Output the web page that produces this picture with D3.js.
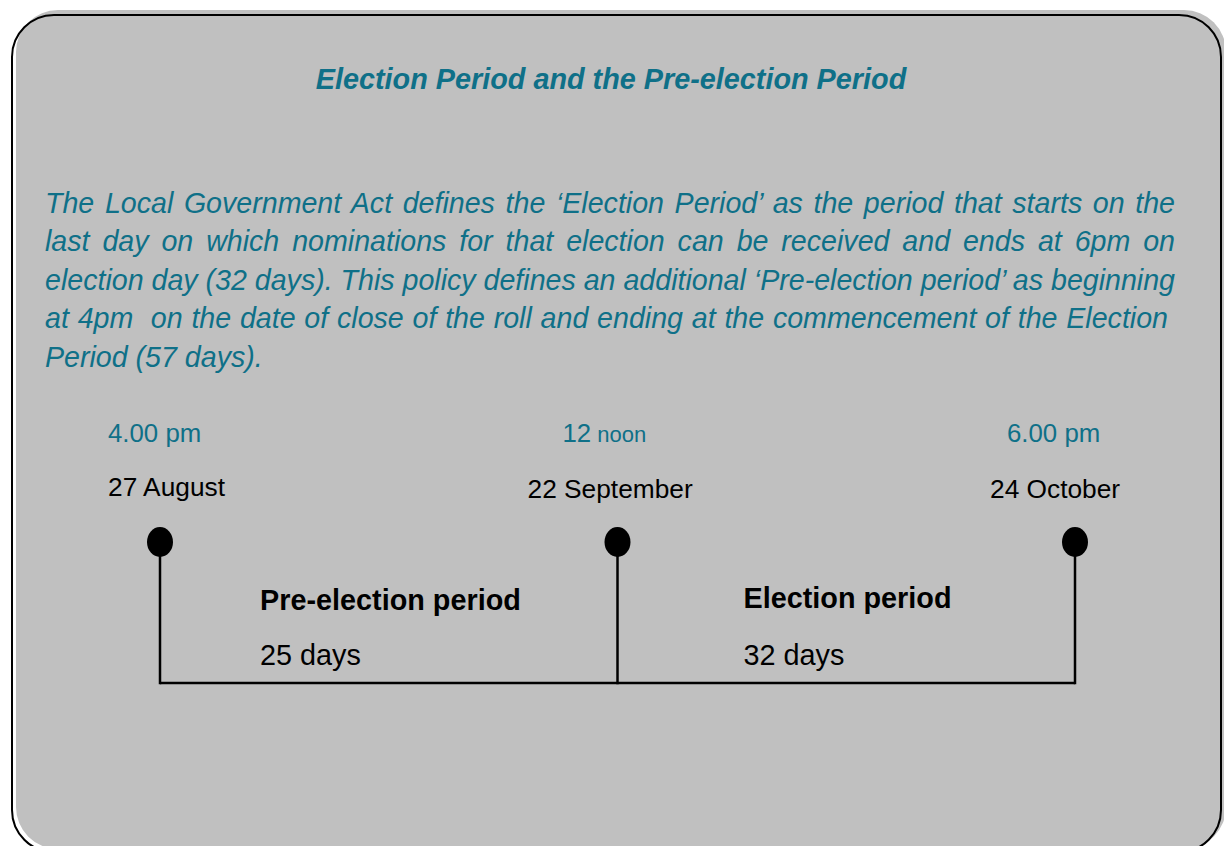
<!DOCTYPE html>
<html>
<head>
<meta charset="utf-8">
<script src="https://cdn.jsdelivr.net/npm/d3@7"></script>
<style>
  html, body { margin: 0; padding: 0; background: #ffffff; }
  svg { display: block; font-family: "Liberation Sans", Arial, sans-serif; }
</style>
</head>
<body>
<svg id="chart" width="1224" height="846"></svg>
<script>
// ---- data ----
const title = "Election Period and the Pre-election Period";
const paragraphLines = [
  "The Local Government Act defines the \u2018Election Period\u2019 as the period that starts on the",
  "last day on which nominations for that election can be received and ends at 6pm on",
  "election day (32 days). This policy defines an additional \u2018Pre-election period\u2019 as beginning",
  "at 4pm  on the date of close of the roll and ending at the commencement of the Election",
  "Period (57 days)."
];
const eventDates = ["27 August", "22 September", "24 October"];
const eventTimeNumbers = ["4.00 pm", "12", "6.00 pm"];
const eventTimeSuffix = ["", " noon", ""];
const periodNames = ["Pre-election period", "Election period"];
const periodDays = ["25 days", "32 days"];

// ---- styles ----
const teal = "#0f7088";
const svg = d3.select("#chart");

// frame
svg.append("rect").attr("x", 16).attr("y", 10).attr("width", 1210).attr("height", 839)
  .attr("rx", 42).attr("ry", 42).attr("fill", "#c0c0c0");
svg.append("rect").attr("x", 12).attr("y", 15).attr("width", 1209).attr("height", 837)
  .attr("rx", 42).attr("ry", 42).attr("fill", "none").attr("stroke", "#000").attr("stroke-width", 2);

// title
svg.append("text").attr("x", 611).attr("y", 89).attr("text-anchor", "middle")
  .attr("font-size", 28.8).attr("font-weight", "bold").attr("font-style", "italic")
  .attr("fill", teal).text(title);

// paragraph (justified)
const pLeft = 45;
const justifyTo = [1175, 1175, 1175, 1168, null];
const baseY = d3.scaleLinear().domain([0, 4]).range([212.5, 366.5]);
paragraphLines.forEach((line, i) => {
  const t = svg.append("text").attr("x", pLeft).attr("y", baseY(i))
    .attr("font-size", 28.6).attr("font-style", "italic").attr("fill", teal)
    .attr("xml:space", "preserve").style("white-space", "pre").text(line);
  if (justifyTo[i]) {
    const natural = t.node().getComputedTextLength();
    const spaces = (line.match(/ /g) || []).length;
    const ws = (justifyTo[i] - pLeft - natural) / spaces;
    t.attr("word-spacing", ws);
  }
});

// timeline
const x = d3.scalePoint().domain(eventDates).range([160, 1075]);
const dotY = 542, baseLineY = 683;

const g = svg.append("g");
// horizontal line
g.append("line").attr("x1", x(eventDates[0])).attr("x2", x(eventDates[eventDates.length - 1]))
  .attr("y1", baseLineY).attr("y2", baseLineY).attr("stroke", "#000").attr("stroke-width", 2.5);
// verticals
g.selectAll("line.v").data(eventDates).join("line").attr("class", "v")
  .attr("x1", d => x(d)).attr("x2", d => x(d)).attr("y1", dotY).attr("y2", baseLineY + 1.25)
  .attr("stroke", "#000").attr("stroke-width", 2.5);
// dots
g.selectAll("ellipse").data(eventDates).join("ellipse")
  .attr("cx", d => x(d)).attr("cy", dotY).attr("rx", 13).attr("ry", 15).attr("fill", "#000");

// time labels
const timeDx = [-52, -55, -68];
const dateDx = [-52, -90, -85];
eventDates.forEach((d, i) => {
  const t = svg.append("text").attr("x", x(d) + timeDx[i]).attr("y", 442)
    .attr("font-size", 25.8).attr("fill", teal).text(eventTimeNumbers[i]);
  if (eventTimeSuffix[i]) t.append("tspan").attr("font-size", 22).text(eventTimeSuffix[i]);
  svg.append("text").attr("x", x(d) + dateDx[i]).attr("y", [496, 498, 498][i])
    .attr("font-size", 26.3).attr("fill", "#000").text(d);
});

// period labels
const periodDx = [100, 126];
periodNames.forEach((p, i) => {
  const sx = x(eventDates[i]) + periodDx[i];
  svg.append("text").attr("x", sx).attr("y", [610, 608][i])
    .attr("font-size", 28.8).attr("font-weight", "bold").attr("fill", "#000").text(p);
  svg.append("text").attr("x", sx).attr("y", 665)
    .attr("font-size", 28.8).attr("fill", "#000").text(periodDays[i]);
});
</script>
</body>
</html>
